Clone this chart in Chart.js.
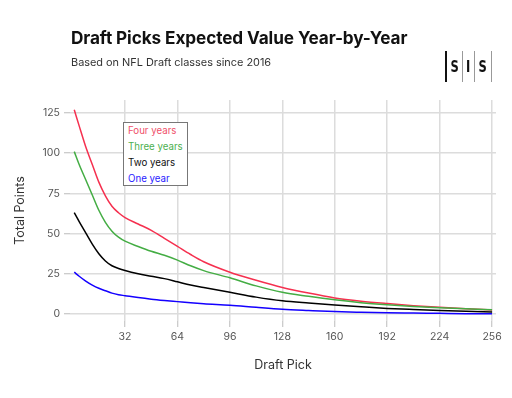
<!DOCTYPE html>
<html>
<head>
<meta charset="utf-8">
<script src="https://cdn.jsdelivr.net/npm/chart.js@4"></script>
<style>
  body { margin: 0; background: #fff; font-family: Inter, "Liberation Sans", sans-serif; }
  #wrap { position: relative; width: 512px; height: 398px; overflow: hidden; }
  #chart { position: absolute; left: 0; top: 0; }
  .title { position: absolute; left: 71px; top: 27px; font-size: 17.2px; font-weight: 700; color: #111; white-space: nowrap; letter-spacing: -0.1px; }
  .subtitle { position: absolute; left: 71px; top: 55px; font-size: 10.9px; color: #333; white-space: nowrap; }
  .logo { position: absolute; left: 445px; top: 51px; height: 31px; display: flex; align-items: center; }
  .logo .bar { width: 1.5px; height: 31px; background: #999; }
  .logo .bar.dark { background: #111; }
  .logo .ch { font-family: "DejaVu Sans Condensed", "Liberation Sans Narrow", sans-serif; font-weight: 700; font-size: 16px; color: #111; padding: 0 2.5px; transform: scaleX(0.8); }
  .legend { position: absolute; left: 123px; top: 122px; width: 65px; height: 64px; border: 1px solid #777; background: #fff; box-sizing: border-box; font-size: 9.7px; }
  .legend div { position: absolute; left: 4px; white-space: nowrap; }
</style>
</head>
<body>
<div id="wrap">
  <canvas id="chart" width="512" height="398"></canvas>
  <div class="title">Draft Picks Expected Value Year-by-Year</div>
  <div class="subtitle">Based on NFL Draft classes since 2016</div>
  <div class="logo">
    <span class="bar dark"></span><span class="ch">S</span><span class="bar"></span><span class="ch">I</span><span class="bar"></span><span class="ch">S</span><span class="bar"></span>
  </div>
  <div class="legend">
    <div style="top:2px;color:#f0506a">Four years</div>
    <div style="top:18px;color:#4caf50">Three years</div>
    <div style="top:34px;color:#111">Two years</div>
    <div style="top:50px;color:#2a1aff">One year</div>
  </div>
</div>
<script>
const picks      = [1, 4, 8, 12, 16, 20, 24, 28, 32, 40, 48, 56, 64, 72, 80, 96, 112, 128, 144, 160, 176, 192, 208, 224, 240, 256];
const fourYears  = [127, 117, 104, 93, 82, 73.5, 67, 63, 60, 56, 52, 47, 42, 37, 32.5, 26, 21, 16.5, 13, 10, 8, 6.5, 5.2, 4.2, 3.3, 2.5];
const threeYears = [101, 93, 83.5, 74, 64.5, 57, 51.5, 47.8, 45.3, 42, 39, 36.5, 33.5, 30, 27, 22.5, 17.5, 13.5, 11, 8.8, 7, 5.7, 4.7, 3.9, 3.2, 2.6];
const twoYears   = [63, 57.5, 50.5, 43.5, 37.5, 33, 30, 28.3, 27, 25, 23.5, 22, 20, 18, 16.5, 13.5, 10.5, 8.2, 6.8, 5.6, 4.5, 3.5, 2.8, 2.2, 1.7, 1.3];
const oneYear    = [26, 23.5, 20.5, 18, 16, 14.5, 13, 12, 11.4, 10.2, 9.2, 8.4, 7.7, 7, 6.4, 5.5, 4.2, 3, 2.2, 1.5, 1.1, 0.8, 0.6, 0.4, 0.2, 0.1];
const xTicks = [32, 64, 96, 128, 160, 192, 224, 256];
const yTicks = [0, 25, 50, 75, 100, 125];

function series(vals) {
    return picks.map((p, i) => ({ x: p, y: vals[i] }));
}

function line(label, vals, color) {
    return {
        label: label,
        data: series(vals),
        borderColor: color,
        borderWidth: 1.5,
        pointRadius: 0,
        fill: false,
        cubicInterpolationMode: 'monotone'
    };
}

const grey = '#dcdcdc';
const tickFont = { family: 'Inter, "Liberation Sans", sans-serif', size: 10.5 };
const titleFont = { family: 'Inter, "Liberation Sans", sans-serif', size: 12.5 };

new Chart(document.getElementById('chart'), {
    type: 'line',
    data: {
        datasets: [
            line('Two years', twoYears, '#000000'),
            line('One year', oneYear, '#1400ff'),
            line('Three years', threeYears, '#44ad44'),
            line('Four years', fourYears, '#f5304f')
        ]
    },
    options: {
        responsive: false,
        animation: false,
        layout: { padding: { top: 100, right: 16, left: 0, bottom: 0 } },
        plugins: { legend: { display: false }, tooltip: { enabled: false } },
        scales: {
            x: {
                type: 'linear',
                min: -1.6,
                max: 258.4,
                afterBuildTicks: s => { s.ticks = xTicks.map(v => ({ value: v })); },
                afterFit: s => { s.height = 77; },
                border: { display: false },
                grid: { color: grey, lineWidth: 1.5, tickLength: 6, tickColor: '#bbb', tickWidth: 1 },
                ticks: { color: '#555', font: tickFont, padding: 4, maxRotation: 0 },
                title: { display: true, text: 'Draft Pick', color: '#333', font: titleFont, padding: { top: 4, bottom: 25 } }
            },
            y: {
                min: -4.35,
                max: 133.1,
                afterBuildTicks: s => { s.ticks = yTicks.map(v => ({ value: v })); },
                afterFit: s => { s.width = 70; },
                border: { display: false },
                grid: { color: grey, lineWidth: 1.5, tickLength: 6, tickColor: '#bbb', tickWidth: 1 },
                ticks: { color: '#555', font: tickFont, padding: 4 },
                title: { display: true, text: 'Total Points', color: '#333', font: titleFont, padding: { top: 13, bottom: 4 } }
            }
        }
    }
});
</script>
</body>
</html>
